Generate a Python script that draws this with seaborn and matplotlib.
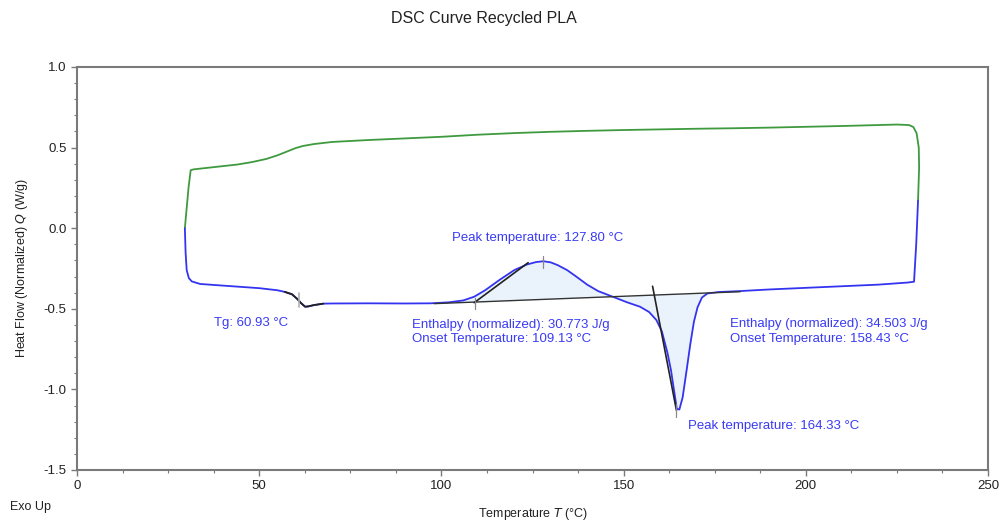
import numpy as np
import pandas as pd
import matplotlib
matplotlib.use("Agg")
import matplotlib.pyplot as plt
from matplotlib.ticker import MultipleLocator
import seaborn as sns

# ---- data ----
heat_T = [29.6, 29.8, 30.1, 30.7, 31.5, 33.8, 40, 45, 50, 55, 57, 59, 60.5, 61.5, 62.6, 63.5,
          65, 67.6, 70, 80, 90, 97, 102, 106, 109, 112, 116, 120, 123.5, 126, 128, 130, 132,
          134.5, 137, 140, 143, 147, 151, 154.5, 157, 159, 160.5, 162, 163, 164, 164.6, 165.3,
          166.2, 167.3, 168.3, 169.3, 170.3, 171.5, 173, 176, 182, 190, 200, 210, 220, 228,
          229.7, 230.3, 230.8]
heat_Q = [0.0, -0.15, -0.26, -0.31, -0.33, -0.346, -0.356, -0.364, -0.372, -0.385, -0.395, -0.41,
          -0.44, -0.465, -0.487, -0.485, -0.477, -0.468, -0.467, -0.466, -0.467, -0.466, -0.46,
          -0.448, -0.425, -0.385, -0.32, -0.26, -0.225, -0.21, -0.205, -0.212, -0.23, -0.26,
          -0.3, -0.35, -0.39, -0.425, -0.46, -0.487, -0.52, -0.57, -0.64, -0.77, -0.88, -1.03,
          -1.12, -1.125, -1.05, -0.88, -0.72, -0.58, -0.49, -0.43, -0.405, -0.396, -0.39,
          -0.38, -0.37, -0.36, -0.35, -0.337, -0.332, -0.1, 0.17]

cool_T = [230.8, 231.1, 231.0, 230.4, 229.5, 228.3, 225, 220, 210, 200, 190, 180, 170, 160, 150,
          140, 130, 120, 110, 100, 90, 80, 70, 65, 62, 60, 57, 55, 52, 48, 44, 40, 36, 32, 31.2,
          30.6, 30.0, 29.6]
cool_Q = [0.17, 0.38, 0.5, 0.59, 0.628, 0.64, 0.643, 0.64, 0.634, 0.629, 0.624, 0.62, 0.617,
          0.613, 0.609, 0.604, 0.598, 0.59, 0.58, 0.567, 0.557, 0.547, 0.535, 0.522, 0.51,
          0.497, 0.47, 0.452, 0.43, 0.41, 0.395, 0.385, 0.375, 0.365, 0.36, 0.25, 0.1, 0.0]

# analysis results
tg = 60.93
cryst_peak, cryst_onset, cryst_enthalpy = 127.80, 109.13, 30.773
melt_peak, melt_onset, melt_enthalpy = 164.33, 158.43, 34.503

baseline_T = [98.0, 182.0]
baseline_Q = [-0.468, -0.394]
cryst_tan_T = [109.0, 123.8]
cryst_tan_Q = [-0.462, -0.214]
melt_tan_T = [157.95, 164.5]
melt_tan_Q = [-0.36, -1.13]

x_ticks = [0, 50, 100, 150, 200, 250]
y_ticks = [-1.5, -1.0, -0.5, 0.0, 0.5, 1.0]

# ---- styling ----
sns.set_theme(style="ticks")
plt.rcParams['font.family'] = ['Liberation Sans', 'DejaVu Sans']

BLUE = "#3434f0"
GREEN = "#3f9a3f"
TXT = "#3a3af5"
FILL = "#eaf3fc"
FRAME = "#7a7a7a"

fig = plt.figure(figsize=(10.05, 5.24), dpi=100)
ax = fig.add_axes([77/1005, 1-470/524, (988-77)/1005, (470-67)/524])

heat = pd.DataFrame({"T": heat_T, "Q": heat_Q})
cool = pd.DataFrame({"T": cool_T, "Q": cool_Q})

# fills between curve and baseline
fT = np.linspace(104, 173, 300)
mono = heat[(heat["T"] > 90) & (heat["T"] < 200)]
fQ = np.interp(fT, mono["T"], mono["Q"])
bQ = np.interp(fT, baseline_T, baseline_Q)
ax.fill_between(fT, fQ, bQ, color=FILL, lw=0, zorder=1)

sns.lineplot(data=cool, x="T", y="Q", sort=False, estimator=None, color=GREEN, lw=1.3, ax=ax, zorder=3)
sns.lineplot(data=heat, x="T", y="Q", sort=False, estimator=None, color=BLUE, lw=1.3, ax=ax, zorder=3)

# Tg region highlighted in black
tg_part = heat[(heat["T"] >= 56.5) & (heat["T"] <= 67.6)]
sns.lineplot(data=tg_part, x="T", y="Q", sort=False, estimator=None, color="#222222", lw=1.3, ax=ax, zorder=4)

# baseline and tangents
ax.plot(baseline_T, baseline_Q, color="#333333", lw=1.0, zorder=4)
ax.plot(cryst_tan_T, cryst_tan_Q, color="#222222", lw=1.2, zorder=4)
ax.plot(melt_tan_T, melt_tan_Q, color="#222222", lw=1.2, zorder=4)

# small marker ticks
ax.plot([tg, tg], [-0.40, -0.49], color="#b0b0b0", lw=1.2, zorder=5)
ax.plot([cryst_peak, cryst_peak], [-0.17, -0.245], color="#888888", lw=0.9, zorder=5)
ax.plot([cryst_onset, cryst_onset], [-0.43, -0.50], color="#888888", lw=0.9, zorder=5)
ax.plot([melt_peak, melt_peak], [-1.09, -1.17], color="#888888", lw=0.9, zorder=5)

fs = 9.5
ax.text(37.6, -0.59, f"Tg: {tg:.2f} °C", color=TXT, fontsize=fs, va="center")
ax.text(102.8, -0.063, f"Peak temperature: {cryst_peak:.2f} °C", color=TXT, fontsize=fs, va="center")
ax.text(92.0, -0.603, f"Enthalpy (normalized): {cryst_enthalpy:.3f} J/g", color=TXT, fontsize=fs, va="center")
ax.text(92.0, -0.69, f"Onset Temperature: {cryst_onset:.2f} °C", color=TXT, fontsize=fs, va="center")
ax.text(179.2, -0.597, f"Enthalpy (normalized): {melt_enthalpy:.3f} J/g", color=TXT, fontsize=fs, va="center")
ax.text(179.2, -0.69, f"Onset Temperature: {melt_onset:.2f} °C", color=TXT, fontsize=fs, va="center")
ax.text(167.7, -1.225, f"Peak temperature: {melt_peak:.2f} °C", color=TXT, fontsize=fs, va="center")

ax.set_xlim(0, 250)
ax.set_ylim(-1.5, 1.0)
ax.set_xticks(x_ticks)
ax.set_yticks(y_ticks)
ax.set_xticklabels([f"{v:g}" for v in x_ticks])
ax.set_yticklabels([f"{v:.1f}" for v in y_ticks])
ax.xaxis.set_minor_locator(MultipleLocator(12.5))
ax.yaxis.set_minor_locator(MultipleLocator(0.1))
for s in ax.spines.values():
    s.set_visible(True)
    s.set_color(FRAME)
    s.set_linewidth(1.5)
ax.tick_params(which="both", direction="out", color=FRAME, labelsize=9.5, labelcolor="#222222")
ax.tick_params(which="major", length=4, width=1.0)
ax.tick_params(which="minor", length=2.5, width=0.8)

ax.set_xlabel("Temperature $\\it{T}$ (°C)", fontsize=9, color="#222222", labelpad=10)
ax.set_ylabel("Heat Flow (Normalized) $\\it{Q}$ (W/g)", fontsize=9, color="#222222", labelpad=10)

fig.text(484/1005, 1-18/524, "DSC Curve Recycled PLA", ha="center", va="center", fontsize=11.5, color="#222222")
fig.text(10/1005, 1-507/524, "Exo Up", ha="left", va="center", fontsize=9, color="#222222")

fig.savefig("out.png", dpi=100)
